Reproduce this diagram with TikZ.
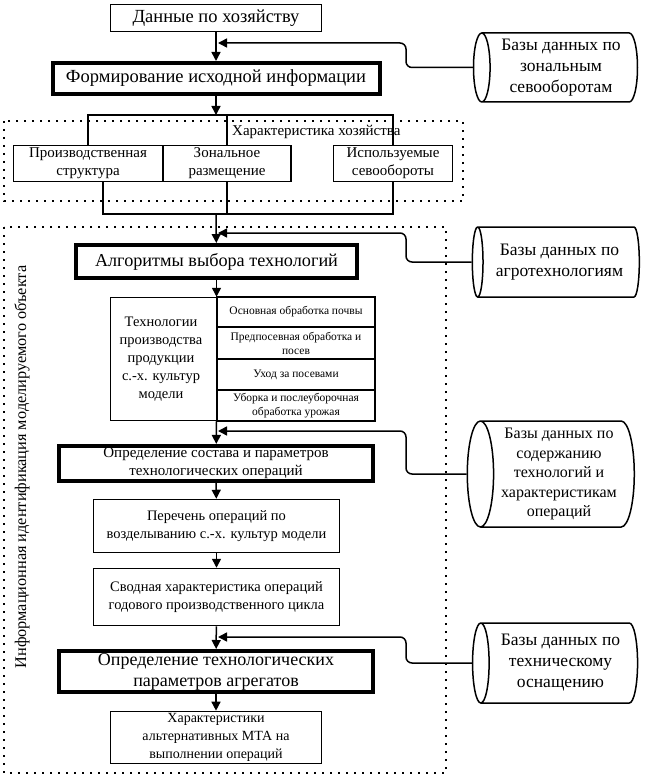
\documentclass[tikz,border=0pt]{standalone}
\usepackage{fontspec}
\setmainfont{Liberation Serif}
\usetikzlibrary{arrows.meta,positioning,shapes.geometric,calc}
\newcommand{\fsz}[2]{\fontsize{#1pt}{#2pt}\selectfont}
\tikzset{
  box/.style={draw,line width=1.5pt,align=center,inner sep=2pt,
              font=\fsz{15}{18}},
  boxb/.style={box,line width=4pt},
  rowbox/.style={box,minimum width=158,font=\fsz{11.5}{14}},
  dbase/.style={draw,line width=1.5pt,cylinder,shape border rotate=180,
                aspect=0.28,align=center,inner sep=1pt,font=\fsz{17.5}{21}},
  lbl/.style={font=\fsz{15}{18},inner sep=0pt},
  frm/.style={line width=2pt,dash pattern=on 2pt off 6pt},
  ln/.style={line width=1.5pt},
  fl/.style={ln,-{Triangle[length=9pt,width=9pt]}},
  fb/.style={fl,rounded corners=6pt},
}
\begin{document}
\begin{tikzpicture}[x=1pt, y=-1pt]
  \useasboundingbox (0,0) rectangle (645,778);
  % The farm data and how it is turned into the starting information.
  \node[box, minimum width=211, minimum height=27, font=\fsz{18.5}{21}]
       (data) at (216,18) {Данные по хозяйству};
  \node[boxb, minimum width=327, minimum height=31, font=\fsz{18.5}{21}]
       (form) at (216,78.5) {Формирование исходной информации};
  \draw[fl] (data) -- (form);
  \node[dbase, minimum height=164, minimum width=69]
       (db1) at (561,67.5) {Базы данных по\\зональным\\севооборотам};
  \coordinate (in1) at (218,43);
  \draw[fb] (db1.west) -| ([xshift=188pt]in1) -- (in1);
  % What the farm is made of, inside its dotted frame.
  \draw[frm] (4,121) rectangle (463,201);
  \node[box, minimum width=149, minimum height=36]
       (prod) at (88,163.5) {Производственная\\структура};
  \node[box, minimum width=128, minimum height=36]
       (zon) at (227,163.5) {Зональное\\размещение};
  \node[box, minimum width=119, minimum height=36]
       (used) at (393,163.5) {Используемые\\севообороты};
  \node[lbl, anchor=west] (chr) at (232,132) {Характеристика хозяйства};
  \coordinate (top) at (216,115);
  \coordinate (bot) at (216,214);
  \draw[fl] (form) -- (top);
  \draw[ln] (prod.north) -- (prod.north |- top) -- (used.north |- top)
       -- (used.north);
  \draw[ln] (zon.north) -- (zon.north |- top);
  \draw[ln] ([xshift=15pt]prod.south) |- (used.south |- bot) -- (used.south);
  \draw[ln] (zon.south) -- (zon.south |- bot);
  % Identification of the modelled object: the big dotted frame.
  \draw[frm] (4,227) rectangle (446,773);
  \node[rotate=90, font=\fsz{16.3}{20}, inner sep=0pt]
       (idn) at (22,467) {Информационная идентификация моделируемого объекта};
  \node[boxb, minimum width=281, minimum height=33, font=\fsz{18.2}{21}]
       (algo) at (216.5,261.5) {Алгоритмы выбора технологий};
  \draw[fl] (bot) -- (algo);
  \node[dbase, minimum height=167, minimum width=70]
       (db2) at (559.5,262) {Базы данных по\\агротехнологиям};
  \coordinate (in2) at (218,233);
  \draw[fb] (db2.west) -| ([xshift=188pt]in2) -- (in2);
  % The technologies, one row for each group of work.
  \node[box, minimum width=264, minimum height=123]
       (tech) at (242.5,359) {};
  \node[font=\fsz{14.5}{18}, align=center] (techl) at (161,359)
       {Технологии\\производства\\продукции\\с.-х. культур\\модели};
  \node[rowbox, minimum height=30] (r1) at (296,312)
       {Основная обработка почвы};
  \node[rowbox, minimum height=32] (r2) at (296,343)
       {Предпосевная обработка и\\посев};
  \node[rowbox, minimum height=31] (r3) at (296,374.5)
       {Уход за посевами};
  \node[rowbox, minimum height=31] (r4) at (296,405.5)
       {Уборка и послеуборочная\\обработка урожая};
  \draw[fl] (algo.south) -- (algo.south |- tech.north);
  \node[boxb, minimum width=314, minimum height=33]
       (comp) at (216,463.5) {Определение состава и параметров\\технологических операций};
  \draw[fl] (algo.south |- tech.south) -- (comp);
  \node[dbase, minimum height=167, minimum width=106, font=\fsz{16}{19.5}]
       (db3) at (559,474) {Базы данных по\\содержанию\\технологий и\\характеристикам\\операций};
  \coordinate (in3) at (218,431);
  \draw[fb] (db3.west) -| ([xshift=188pt]in3) -- (in3);
  % From the list of operations down to the machine units.
  \node[box, minimum width=246, minimum height=53, font=\fsz{14.5}{18}]
       (list) at (216.5,526) {Перечень операций по\\возделыванию с.-х. культур модели};
  \node[box, minimum width=246, minimum height=57, font=\fsz{14.5}{18}]
       (summ) at (216.5,597) {Сводная характеристика операций\\годового производственного цикла};
  \node[boxb, minimum width=314, minimum height=41, font=\fsz{18}{21}]
       (param) at (216,671.5) {Определение технологических\\параметров агрегатов};
  \node[box, minimum width=211, minimum height=52, font=\fsz{14}{18}]
       (mta) at (216,737.5) {Характеристики\\альтернативных МТА на\\выполнении операций};
  \draw[fl] (comp) -- (list);
  \draw[fl] (list) -- (summ);
  \draw[fl] (summ) -- (param);
  \draw[fl] (param) -- (mta);
  \node[dbase, minimum height=165, minimum width=80]
       (db4) at (560.5,663) {Базы данных по\\техническому\\оснащению};
  \coordinate (in4) at (218,637);
  \draw[fb] (db4.west) -| ([xshift=188pt]in4) -- (in4);
\end{tikzpicture}
\end{document}
